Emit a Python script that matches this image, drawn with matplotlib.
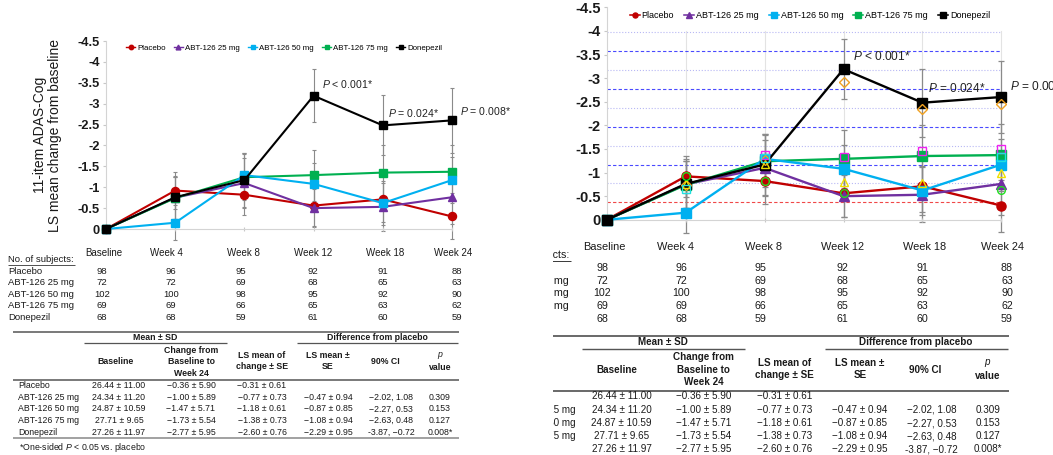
import numpy as np
import matplotlib
matplotlib.use('Agg')
import matplotlib.pyplot as plt
from matplotlib.ticker import FixedLocator, FixedFormatter

plt.rcParams['font.family'] = ['Liberation Sans', 'DejaVu Sans']
plt.rcParams['mathtext.fontset'] = 'custom'
plt.rcParams['mathtext.rm'] = 'Liberation Sans'
plt.rcParams['mathtext.it'] = 'Liberation Sans:italic'
plt.rcParams['mathtext.bf'] = 'Liberation Sans:bold'

# ---------------- data ----------------
weeks = ['Baseline', 'Week 4', 'Week 8', 'Week 12', 'Week 18', 'Week 24']
groups = ['Placebo', 'ABT-126 25 mg', 'ABT-126 50 mg', 'ABT-126 75 mg', 'Donepezil']
colors = ['#C00000', '#7030A0', '#00B0F0', '#00B050', '#000000']
markers = ['o', '^', 's', 's', 's']

placebo = [0, -0.92, -0.82, -0.56, -0.71, -0.30]
abt25 = [0, -0.75, -1.10, -0.50, -0.53, -0.76]
abt50 = [0, -0.15, -1.29, -1.08, -0.62, -1.17]
abt75 = [0, -0.74, -1.24, -1.29, -1.35, -1.37]
donepezil = [0, -0.76, -1.17, -3.19, -2.48, -2.60]
series = [placebo, abt25, abt50, abt75, donepezil]

err_placebo = [0, 0.44, 0.48, 0.50, 0.55, 0.55]
err_abt25 = [0, 0.50, 0.60, 0.45, 0.58, 0.65]
err_abt50 = [0, 0.42, 0.52, 0.50, 0.52, 0.55]
err_abt75 = [0, 0.50, 0.55, 0.61, 0.65, 0.65]
err_donepezil = [0, 0.52, 0.64, 0.63, 0.72, 0.77]
errors = [err_placebo, err_abt25, err_abt50, err_abt75, err_donepezil]

p_labels = ['$P$ < 0.001*', '$P$ = 0.024*', '$P$ = 0.008*']
p_weeks = [3, 4, 5]

ytick_values = [0, -0.5, -1, -1.5, -2, -2.5, -3, -3.5, -4, -4.5]
ytick_labels = ['0', '-0.5', '-1', '-1.5', '-2', '-2.5', '-3', '-3.5', '-4', '-4.5']

n_placebo = [98, 96, 95, 92, 91, 88]
n_abt25 = [72, 72, 69, 68, 65, 63]
n_abt50 = [102, 100, 98, 95, 92, 90]
n_abt75 = [69, 69, 66, 65, 63, 62]
n_donepezil = [68, 68, 59, 61, 60, 59]
n_subjects = [n_placebo, n_abt25, n_abt50, n_abt75, n_donepezil]

tab_baseline = ['26.44 ± 11.00', '24.34 ± 11.20', '24.87 ± 10.59', '27.71 ± 9.65', '27.26 ± 11.97']
tab_change = ['−0.36 ± 5.90', '−1.00 ± 5.89', '−1.47 ± 5.71', '−1.73 ± 5.54', '−2.77 ± 5.95']
tab_lsmean = ['−0.31 ± 0.61', '−0.77 ± 0.73', '−1.18 ± 0.61', '−1.38 ± 0.73', '−2.60 ± 0.76']
tab_diff = ['', '−0.47 ± 0.94', '−0.87 ± 0.85', '−1.08 ± 0.94', '−2.29 ± 0.95']
tab_ci = ['', '−2.02, 1.08', '−2.27, 0.53', '−2.63, 0.48', '-3.87, −0.72']
tab_p = ['', '0.309', '0.153', '0.127', '0.008*']

# overlay (right copy only)
ov_orange_diamond = [np.nan, -0.73, -1.26, -2.91, -2.35, -2.45]
ov_magenta_square = [np.nan, np.nan, -1.37, -1.34, -1.46, -1.49]
ov_yellow_triangle = [np.nan, -0.76, -1.19, -0.81, -0.78, -1.00]
ov_green_circle = [np.nan, -0.93, -0.82, -0.57, np.nan, -0.64]
ov_cyan_square = [np.nan, -0.66, -1.30, np.nan, np.nan, -1.33]
grid_blue_dash = [-1.17, -1.97, -2.77, -3.57]
grid_light_dot = [-0.78, -1.57, -2.37, -3.17, -3.98]
grid_red_dash = [-0.38]

W, H = 1053, 455
fig = plt.figure(figsize=(W / 100, H / 100), dpi=100)


def px_axes(x0, y0, x1, y1):
    return fig.add_axes([x0 / W, 1 - y1 / H, (x1 - x0) / W, (y1 - y0) / H])


def draw_panel(ox, oy, sx, sy, f, clip_x, right=False):
    X = lambda x: ox + sx * x
    Y = lambda y: oy + sy * y
    ax = px_axes(X(106), Y(41), X(452), Y(229))
    xs = np.arange(len(weeks))
    ax.set_xlim(0, 5)
    ax.set_ylim(0, -4.5)
    for s in ['top', 'right']:
        ax.spines[s].set_visible(False)
    for s in ['left', 'bottom']:
        ax.spines[s].set_color('#d4d4d4')
        ax.spines[s].set_linewidth(0.8)
    ax.yaxis.set_major_locator(FixedLocator(ytick_values))
    ax.yaxis.set_major_formatter(FixedFormatter(ytick_labels))
    ax.set_xticks(xs)
    ax.set_xticklabels([])
    ax.tick_params(axis='y', length=2.5, color='#c8c8c8', labelsize=9.3 * f, pad=2,
                   labelcolor='#1a1a1a')
    ax.tick_params(axis='x', length=3, color='#c8c8c8', direction='inout')
    for lab in ax.get_yticklabels():
        lab.set_fontweight('bold')
    if not right:
        ax.set_ylabel('11-item ADAS-Cog\nLS mean change from baseline', fontsize=10 * f,
                      labelpad=11, linespacing=1.1, color='#1a1a1a')
    if right:
        for v in xs[1:]:
            ax.plot([v, v], [0, -4.0], color='#e3e3e3', lw=0.8, zorder=0.5, clip_on=False)
        for v in grid_light_dot:
            ax.axhline(v, color='#b8b8f4', lw=0.8, ls=':', zorder=0.6)
        for v in grid_blue_dash:
            ax.axhline(v, color='#4a4aff', lw=0.8, ls=(0, (3, 2)), zorder=0.6)
        for v in grid_red_dash:
            ax.axhline(v, color='#f04848', lw=0.8, ls=(0, (3, 2)), zorder=0.6)
    for i, (vals, err) in enumerate(zip(series, errors)):
        ax.errorbar(xs, vals, yerr=err, fmt='none', ecolor='#8a8a8a', elinewidth=0.8 * f,
                    capsize=1.6 * f, capthick=0.8 * f, zorder=1, clip_on=False)
    zord = [3.0, 3.1, 3.3, 3.2, 3.4]
    ms = [5.8, 6.3, 5.8, 5.8, 6.1]
    for i, vals in enumerate(series):
        ax.plot(xs, vals, color=colors[i], marker=markers[i], ms=ms[i] * f, lw=1.5 * f,
                zorder=zord[i], clip_on=False, label=groups[i])
    if right:
        mk = dict(ls='none', mfc='none', clip_on=False, zorder=5, mew=1.0)
        ax.plot(xs, ov_orange_diamond, marker='D', ms=5.5, mec='#F0A020', **mk)
        ax.plot(xs, ov_magenta_square, marker='s', ms=6, mec='#F020F0', **mk)
        ax.plot(xs, ov_yellow_triangle, marker='^', ms=5.5, mec='#F0E000', **mk)
        ax.plot(xs, ov_green_circle, marker='o', ms=5.5, mec='#20E020', **mk)
        ax.plot(xs, ov_cyan_square, marker='s', ms=6, mec='#20E0E0', **mk)
    for lab, w in zip(p_labels, p_weeks):
        y = series[4][w]
        off = {3: (0.12, -0.27), 4: (0.075, -0.30), 5: (0.115, -0.22)}[w]
        ax.text(w + off[0], y + off[1], lab, fontsize=7.6 * f, ha='left', va='center',
                color='#222222', clip_on=False)
    leg = ax.legend(loc='center', bbox_to_anchor=(0.515, 0.963), ncol=5, frameon=False,
                    fontsize=5.7 * f, handlelength=1.1, handletextpad=0.25, columnspacing=1.1,
                    markerscale=0.55, borderaxespad=0)
    for h in leg.get_lines():
        h.set_linewidth(1.0 * f)

    # ---- canvas for tables ----
    cv = px_axes(clip_x, 0, W, H)
    cv.set_xlim((clip_x - ox) / sx, (W - ox) / sx)
    cv.set_ylim((H - oy) / sy, (0 - oy) / sy)
    cv.axis('off')
    cv.patch.set_visible(False)

    def T(x, y, s, fs, **kw):
        kw.setdefault('va', 'center')
        kw.setdefault('ha', 'center')
        cv.text(x, y, s, fontsize=fs * f, clip_on=True, color='#1a1a1a', **kw)

    def L(x0, x1, y, lw=0.9, c='#555555'):
        cv.plot([x0, x1], [y, y], color=c, lw=lw * f, solid_capstyle='butt')

    header_x = [104, 166, 243, 313, 385, 453]
    count_x = [102, 171, 241, 313, 383, 457]
    for hx, wk in zip(header_x, weeks):
        T(hx, 253, wk, 7.0)
    T(8, 260, 'No. of subjects:', 6.8, ha='left')
    L(8, 74.5, 265.3, lw=0.6, c='#333333')
    row_y = [271.7, 282.9, 294.1, 305.6, 317.2]
    for g, ry, counts in zip(groups, row_y, n_subjects):
        T(8, ry, g, 6.8, ha='left')
        for cx, n in zip(count_x, counts):
            T(cx, ry, str(n), 6.8)

    # lower table
    L(13, 459, 332.3, lw=1.1)
    T(155, 337.5, 'Mean ± SD', 6.3, fontweight='bold')
    T(377, 337.5, 'Difference from placebo', 6.3, fontweight='bold')
    L(84, 227, 343.2, lw=0.9)
    L(297, 458, 343.2, lw=0.9)
    T(115, 362, 'Baseline', 6.3, fontweight='bold')
    T(191, 361.7, 'Change from\nBaseline to\nWeek 24', 6.3, fontweight='bold', linespacing=1.33)
    T(262, 361.2, 'LS mean of\nchange ± SE', 6.3, fontweight='bold', linespacing=1.33)
    T(328, 361.2, 'LS mean ±\nSE', 6.3, fontweight='bold', linespacing=1.33)
    T(385, 362, '90% CI', 6.3, fontweight='bold')
    T(440, 361.2, '$\\mathbf{\\mathit{p}}$\nvalue', 6.3, fontweight='bold', linespacing=1.33)
    L(13, 459, 380.3, lw=1.1)
    tab_y = [385.3, 397.0, 408.9, 420.6, 432.3]
    cols = [(119, tab_baseline), (191, tab_change), (262, tab_lsmean), (328, tab_diff),
            (391, tab_ci), (440, tab_p)]
    for gi, ty in enumerate(tab_y):
        T(18, ty, groups[gi], 6.3, ha='left')
        for cx, arr in cols:
            if arr[gi]:
                T(cx, ty, arr[gi], 6.3)
    L(13, 459, 438.2, lw=1.1, c='#888888')
    if not right:
        T(19, 448, '*One-sided $P$ < 0.05 vs. placebo', 6.3, ha='left')


draw_panel(0, 0, 1.0, 1.0, 1.0, 0)
draw_panel(486, -39, 1.14, 1.13, 1.13, 553, right=True)

fig.savefig('out.png', dpi=100)
